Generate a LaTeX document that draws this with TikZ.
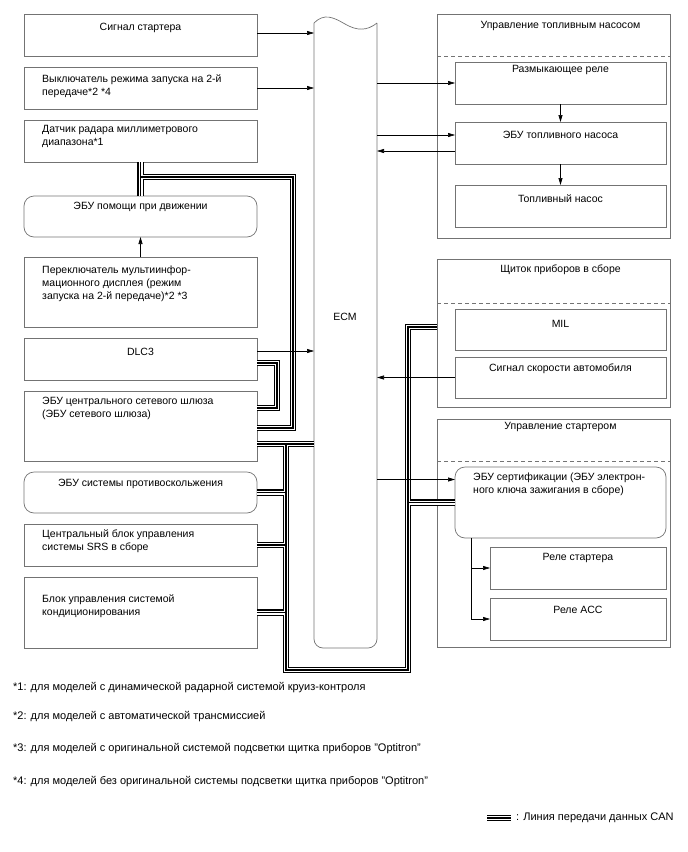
\documentclass[tikz,border=0pt]{standalone}
\usepackage{fontspec}
\setmainfont{Liberation Sans}
\usetikzlibrary{arrows.meta,calc}
\tikzstyle{blk}=[draw=black!55, line width=0.7pt, inner sep=0pt, outer sep=0pt, anchor=north west]
\tikzstyle{rblk}=[blk, rounded corners=10pt]
\tikzstyle{txt}=[inner sep=0pt, font=\fontsize{10.5}{13}\selectfont, align=left]
\tikzstyle{note}=[txt, anchor=west, font=\fontsize{11}{13}\selectfont]
\tikzstyle{arr}=[draw=black, line width=0.6pt, -{Triangle[length=7pt,width=4pt]}]
\tikzstyle{sepline}=[draw=black!55, line width=0.7pt, dash pattern=on 4pt off 3pt]

\begin{document}
\begin{tikzpicture}[x=1pt, y=-1pt]
\useasboundingbox (0,0) rectangle (688,852);

% left column
\node[blk, minimum width=233pt, minimum height=42pt] (stsig) at (24,14) {};
\node[blk, minimum width=233pt, minimum height=42pt] (sw2nd) at (24,67) {};
\node[blk, minimum width=233pt, minimum height=42pt] (radar) at (24,120) {};
\node[rblk, minimum width=233pt, minimum height=41pt] (drvecu) at (24,196) {};
\node[blk, minimum width=233pt, minimum height=70pt] (mdsw) at (24,257) {};
\node[blk, minimum width=233pt, minimum height=42pt] (dlc) at (24,338) {};
\node[blk, minimum width=233pt, minimum height=70pt] (gw) at (24,391) {};
\node[rblk, minimum width=233pt, minimum height=41pt] (skid) at (24,472) {};
\node[blk, minimum width=233pt, minimum height=42pt] (srs) at (24,524) {};
\node[blk, minimum width=233pt, minimum height=71pt] (ac) at (24,577) {};

\node[txt, anchor=north] (stsig-t) at ([yshift=-9pt]stsig.north) {Сигнал стартера};
\node[txt, anchor=north west] (sw2nd-t) at ([xshift=18pt,yshift=-8pt]sw2nd.north west) {Выключатель режима запуска на 2-й\\передаче*2 *4};
\node[txt, anchor=north west] (radar-t) at ([xshift=18pt,yshift=-5pt]radar.north west) {Датчик радара миллиметрового\\диапазона*1};
\node[txt, anchor=north] (drvecu-t) at ([yshift=-6pt]drvecu.north) {ЭБУ помощи при движении};
\node[txt, anchor=north west] (mdsw-t) at ([xshift=18pt,yshift=-9pt]mdsw.north west) {Переключатель мультиинфор-\\мационного дисплея (режим\\запуска на 2-й передаче)*2 *3};
\node[txt, anchor=north] (dlc-t) at ([yshift=-10pt]dlc.north) {DLC3};
\node[txt, anchor=north west] (gw-t) at ([xshift=18pt,yshift=-6pt]gw.north west) {ЭБУ центрального сетевого шлюза\\(ЭБУ сетевого шлюза)};
\node[txt, anchor=north] (skid-t) at ([yshift=-7pt]skid.north) {ЭБУ системы противоскольжения};
\node[txt, anchor=north west] (srs-t) at ([xshift=18pt,yshift=-5pt]srs.north west) {Центральный блок управления\\системы SRS в сборе};
\node[txt, anchor=north west] (ac-t) at ([xshift=18pt,yshift=-17pt]ac.north west) {Блок управления системой\\кондиционирования};

% ECM
\node[minimum width=63pt, minimum height=625pt, inner sep=0pt, outer sep=0pt, anchor=north west] (ecm) at (314,23) {};
\draw[draw=black!55, line width=0.7pt] (ecm.north east) [rounded corners=9pt] -- (ecm.south east) -- (ecm.south west) [sharp corners] -- (ecm.north west)
  .. controls (324,13) and (333,17) .. (345,24) .. controls (357,31) and (367,31) .. (ecm.north east);
\node[txt] (ecm-t) at (345,317) {ECM};

% right column
\node[blk, minimum width=233pt, minimum height=224pt] (fpctl) at (437,14) {};
\node[blk, minimum width=211pt, minimum height=42pt] (cutrel) at (455,62) {};
\node[blk, minimum width=211pt, minimum height=42pt] (fpecu) at (455,122) {};
\node[blk, minimum width=211pt, minimum height=42pt] (fpump) at (455,185) {};
\node[blk, minimum width=233pt, minimum height=148pt] (combo) at (437,259) {};
\node[blk, minimum width=211pt, minimum height=41pt] (mil) at (455,309) {};
\node[blk, minimum width=211pt, minimum height=41pt] (spd) at (455,357) {};
\node[blk, minimum width=233pt, minimum height=228pt] (stctl) at (437,419) {};
\node[rblk, minimum width=211pt, minimum height=71pt] (certecu) at (455,467) {};
\node[blk, minimum width=176pt, minimum height=42pt] (strel) at (490,547) {};
\node[blk, minimum width=176pt, minimum height=42pt] (accrel) at (490,598) {};

\draw[sepline] ([yshift=-42pt]fpctl.north west) -- ([yshift=-42pt]fpctl.north east);
\draw[sepline] ([yshift=-44pt]combo.north west) -- ([yshift=-44pt]combo.north east);
\draw[sepline] ([yshift=-42pt]stctl.north west) -- ([yshift=-42pt]stctl.north east);

\node[txt, anchor=north] (fpctl-t) at ([xshift=7pt,yshift=-7pt]fpctl.north) {Управление топливным насосом};
\node[txt, anchor=north] (cutrel-t) at ([yshift=-3pt]cutrel.north) {Размыкающее реле};
\node[txt, anchor=north] (fpecu-t) at ([yshift=-9pt]fpecu.north) {ЭБУ топливного насоса};
\node[txt, anchor=north] (fpump-t) at ([yshift=-10pt]fpump.north) {Топливный насос};
\node[txt, anchor=north] (combo-t) at ([xshift=7pt,yshift=-6pt]combo.north) {Щиток приборов в сборе};
\node[txt, anchor=north] (mil-t) at ([yshift=-11pt]mil.north) {MIL};
\node[txt, anchor=north] (spd-t) at ([yshift=-7pt]spd.north) {Сигнал скорости автомобиля};
\node[txt, anchor=north] (stctl-t) at ([xshift=7pt,yshift=-3pt]stctl.north) {Управление стартером};
\node[txt, anchor=north west] (certecu-t) at ([xshift=18pt,yshift=-6pt]certecu.north west) {ЭБУ сертификации (ЭБУ электрон-\\ного ключа зажигания в сборе)};
\node[txt, anchor=north] (strel-t) at ([yshift=-6pt]strel.north) {Реле стартера};
\node[txt, anchor=north] (accrel-t) at ([yshift=-8pt]accrel.north) {Реле ACC};

% notes
\node[note] (fn1) at (13,688) {*1: для моделей с динамической радарной системой круиз-контроля};
\node[note] (fn2) at (13,717) {*2: для моделей с автоматической трансмиссией};
\node[note] (fn3) at (13,749) {*3: для моделей с оригинальной системой подсветки щитка приборов "Optitron"};
\node[note] (fn4) at (13,782) {*4: для моделей без оригинальной системы подсветки щитка приборов "Optitron"};
\node[note] (leg) at (516,818) {: Линия передачи данных CAN};

% CAN
\coordinate (canA) at (293,177);
\coordinate (canB) at (286,444);
\coordinate (canC) at (286,670);
\coordinate (canD) at (408,670);
\coordinate (canE) at (277,363);
\coordinate (legA) at (487,818);
\foreach \lw/\lc in {6.4/black,4/white,1.2/black}{
  \draw[line width=\lw pt, draw=\lc]
    (radar.south) -- (drvecu.north)
    (canA -| radar.south) -- (canA) |- ([yshift=-2pt]gw.east)
    (dlc.east |- canE) -- (canE) |- ([yshift=18pt]gw.east)
    (canB -| gw.east) -- (canB -| ecm.west)
    (canB) -- (canC) -- (canD) |- ([yshift=6pt]combo.west)
    (skid.east) -- (skid.east -| canB)
    (srs.east) -- (srs.east -| canB)
    (ac.east) -- (ac.east -| canB)
    (certecu.west) -- (certecu.west -| canD)
    (legA) -- ([xshift=-5pt]leg.west);
}

% signals
\draw[arr] ([yshift=2pt]stsig.east) -- ([yshift=2pt]stsig.east -| ecm.west);
\draw[arr] (sw2nd.east) -- (sw2nd.east -| ecm.west);
\draw[arr] ([yshift=8pt]dlc.east) -- ([yshift=8pt]dlc.east -| ecm.west);
\draw[arr] (mdsw.north) -- (drvecu.south);
\draw[arr] (cutrel.west -| ecm.east) -- (cutrel.west);
\draw[arr] ([yshift=8pt]fpecu.west -| ecm.east) -- ([yshift=8pt]fpecu.west);
\draw[arr] ([yshift=-8pt]fpecu.west) -- ([yshift=-8pt]fpecu.west -| ecm.east);
\draw[arr] (cutrel.south) -- (fpecu.north);
\draw[arr] (fpecu.south) -- (fpump.north);
\draw[arr] (spd.west) -- (spd.west -| ecm.east);
\draw[arr] ([yshift=23pt]certecu.west -| ecm.east) -- ([yshift=23pt]certecu.west);
\coordinate (certB) at ([xshift=16pt]certecu.south west);
\draw[arr] (certB) |- (strel.west);
\draw[arr] (certB) |- (accrel.west);
\end{tikzpicture}
\end{document}
